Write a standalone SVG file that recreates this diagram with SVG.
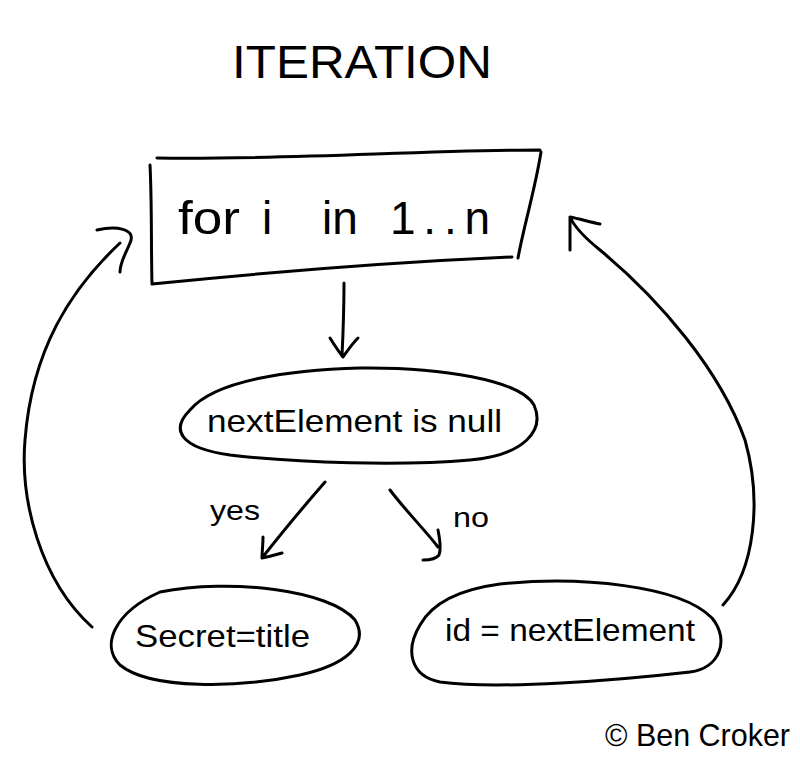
<svg xmlns="http://www.w3.org/2000/svg" width="800" height="775" viewBox="0 0 800 775">
<defs>
<style>
.s{fill:none;stroke:#000;stroke-width:3;stroke-linecap:round;stroke-linejoin:round}
.t{font-family:"Liberation Sans",Arial,sans-serif;fill:#000}
</style>
</defs>
<rect width="800" height="775" fill="#fff"/>
<text class="t" x="232" y="78" font-size="46" textLength="260" lengthAdjust="spacingAndGlyphs">ITERATION</text>
<g id="loop">
<path class="s" d="M157,158 C290,160 420,150 540,150 M541,152 C535,190 524,225 518,258 M512,257 C400,262 270,272 152,284 M152,284 C151,245 152,205 150,165"/>
<text class="t" font-size="46" y="234"><tspan x="178" textLength="62" lengthAdjust="spacingAndGlyphs">for</tspan><tspan x="262">i</tspan><tspan x="322">in</tspan><tspan x="390" textLength="100" lengthAdjust="spacing">1..n</tspan></text>
</g>
<g id="cond">
<path class="s" d="M190,410 C215,380 290,370 360,368 C440,367 520,380 534,405 C545,430 525,455 470,460 C400,466 300,463 230,455 C180,448 170,430 190,410 Z"/>
<text class="t" x="207" y="432" font-size="32" textLength="295" lengthAdjust="spacingAndGlyphs">nextElement is null</text>
</g>
<g id="secret">
<path class="s" d="M160,592 C230,578 330,590 355,620 C370,645 345,665 300,675 C240,688 150,690 120,665 C100,645 115,612 160,592"/>
<text class="t" x="135" y="647" font-size="32" textLength="175" lengthAdjust="spacingAndGlyphs">Secret=title</text>
</g>
<g id="assign">
<path class="s" d="M500,584 C580,576 680,585 712,618 C730,640 720,668 690,672 C620,680 500,690 440,682 C410,676 405,650 420,625 C435,598 470,588 500,584"/>
<text class="t" x="445" y="641" font-size="32" textLength="250" lengthAdjust="spacingAndGlyphs">id = nextElement</text>
</g>
<g id="connectors">
<path class="s" d="M344,283 C344,310 343,335 342,356 M330,338 C335,346 339,352 343,357 C348,350 352,344 358,338"/>
<path class="s" d="M325,482 C305,505 280,535 262,558 M263,537 C263,545 262,552 262,558 C268,557 275,555 282,553"/>
<text class="t" x="210" y="520" font-size="28" textLength="50" lengthAdjust="spacingAndGlyphs">yes</text>
<path class="s" d="M390,490 C405,510 425,530 438,547 M438,530 C440,540 441,550 439,555 C436,559 430,560 423,560"/>
<text class="t" x="453" y="527" font-size="28" textLength="36" lengthAdjust="spacingAndGlyphs">no</text>
<path class="s" d="M92,627 C40,580 20,500 25,440 C32,350 70,290 120,243 M97,230 C115,226 137,228 130,243 C126,253 120,262 120,272"/>
<path class="s" d="M723,605 C755,570 762,500 745,440 C720,370 660,300 600,250 C585,238 575,228 570,217 M570,250 C570,238 570,228 570,217 C580,219 590,222 600,224"/>
</g>
<text class="t" x="605" y="746" font-size="32" textLength="185" lengthAdjust="spacingAndGlyphs">© Ben Croker</text>
</svg>
